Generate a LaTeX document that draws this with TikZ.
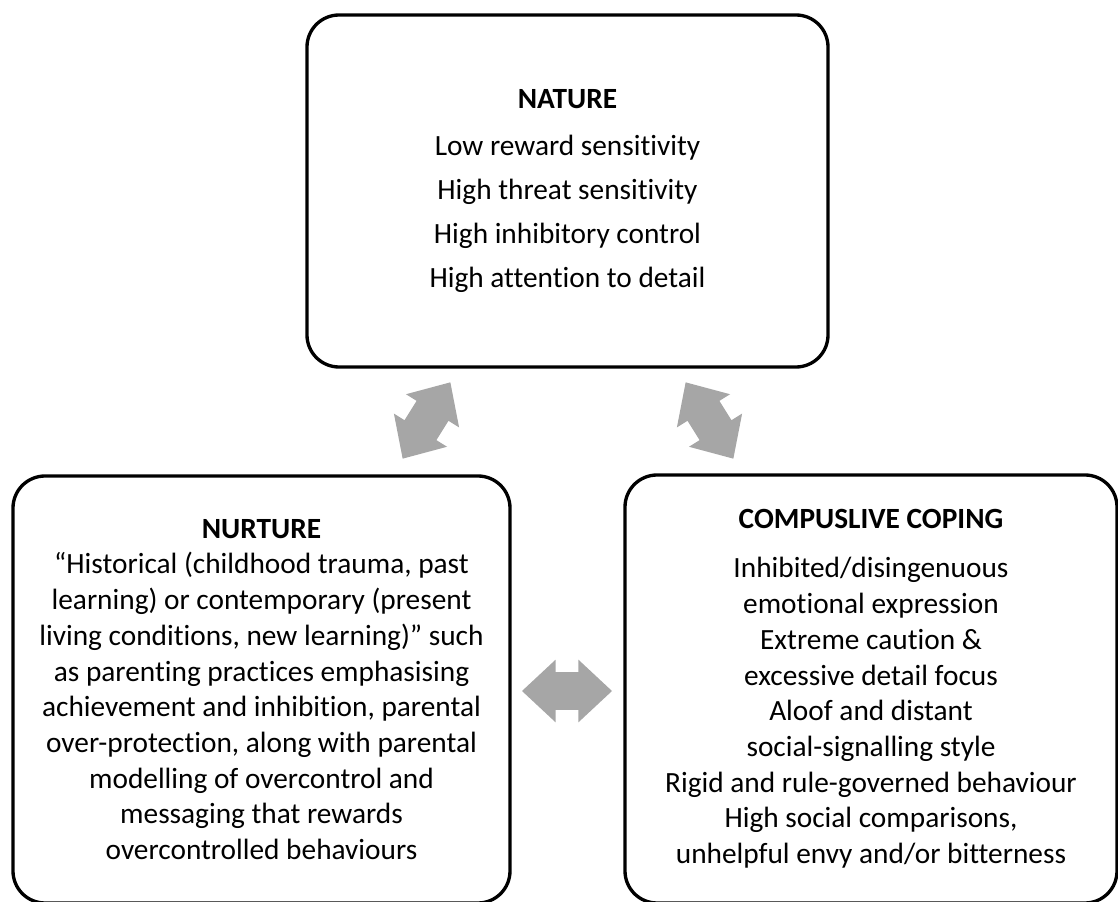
\documentclass[tikz,border=0pt]{standalone}
\usepackage{fontspec}
\setmainfont{Carlito}[Ligatures={NoCommon}]
\usetikzlibrary{shapes.arrows}
\definecolor{arrowgrey}{HTML}{A6A6A6}

\begin{document}
\begin{tikzpicture}[
  x=0.75pt, y=-0.75pt,
  box/.style={draw, line width=2.5pt, rounded corners=24pt, align=center,
              inner sep=0pt, font=\fontsize{22}{26.8}\selectfont},
  twoway/.style={double arrow, fill=arrowgrey, draw=none,
                 inner xsep=0pt, inner ysep=13.9pt,
                 minimum height=67.5pt,
                 double arrow head extend=9.4pt, double arrow tip angle=86}
]
  \useasboundingbox (0,0) rectangle (1118,902);
  \clip (0,0) rectangle (1118,902);

  \node[box, minimum width=390.75pt, minimum height=264pt] (nature) at (567.5,191)
    {\textbf{NATURE}\\[8.5pt]
     Low reward sensitivity\\[6.2pt]
     High threat sensitivity\\[6.2pt]
     High inhibitory control\\[6.2pt]
     High attention to detail};

  \node[box, minimum width=372.75pt, minimum height=320.25pt] (nurture) at (261.5,689.5)
    {\textbf{NURTURE}\\
     “Historical (childhood trauma, past\\
     learning) or contemporary (present\\
     living conditions, new learning)” such\\
     as parenting practices emphasising\\
     achievement and inhibition, parental\\
     over-protection, along with parental\\
     modelling of overcontrol and\\
     messaging that rewards\\
     overcontrolled behaviours};

  \node[box, minimum width=369pt, minimum height=321pt] (coping) at (871,689)
    {\textbf{COMPUSLIVE COPING}\\[10pt]
     Inhibited/disingenuous\\
     emotional expression\\
     Extreme caution \&\\
     excessive detail focus\\
     Aloof and distant\\
     social-signalling style\\
     Rigid and rule-governed behaviour\\
     High social comparisons,\\
     unhelpful envy and/or bitterness};

  % two-way block arrows between the boxes
  \node[twoway, rotate=58]  (natnur) at (426.5,420.5) {};
  \node[twoway, rotate=-58] (natcop) at (709.5,420.5) {};
  \node[twoway]             (nurcop) at (567,691) {};
\end{tikzpicture}
\end{document}
